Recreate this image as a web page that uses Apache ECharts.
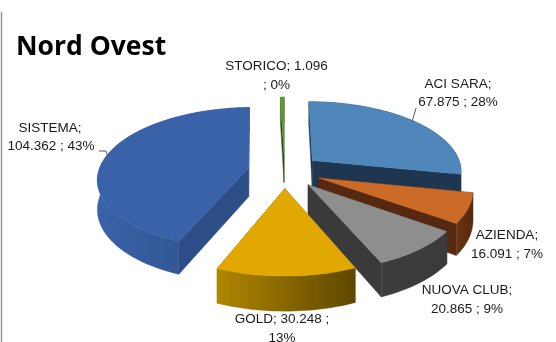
<!DOCTYPE html>
<html>
<head>
<meta charset="utf-8">
<title>Nord Ovest</title>
<script src="https://cdn.jsdelivr.net/npm/echarts@6/dist/echarts.min.js"></script>
<style>
  html, body { margin: 0; padding: 0; background: #fff; }
  #chart { width: 556px; height: 342px; }
</style>
</head>
<body>
<div id="chart"></div>
<script>
// Channel figures, clockwise from twelve o'clock
const titleText = 'Nord Ovest';
const categories = ['ACI SARA', 'AZIENDA', 'NUOVA CLUB', 'GOLD', 'SISTEMA', 'STORICO'];
const amounts = [67875, 16091, 20865, 30248, 104362, 1096];

// Painter's order: far slices first
const paintOrder = [0, 5, 4, 1, 2, 3];

// Wedge colours: top face, cut walls, rim gradient
const palette = [
  { top: '#4f87bb', cut: '#1f3650', rim: ['#2a4a6e', '#1f3650'] },
  { top: '#cc6a28', cut: '#55290f', rim: ['#6a3413', '#55290f'] },
  { top: '#8e8e8e', cut: '#3a3a3a', rim: ['#3d3d3d', '#3a3a3a'] },
  { top: '#e0a800', cut: '#7a5c00', rim: ['#b08600', '#5e4700'] },
  { top: '#3a62a8', cut: '#2c4d85', rim: ['#3a62a8', '#2c4d85'] },
  { top: '#5f9738', cut: '#2c4a18', rim: ['#5f9738', '#2c4a18'] }
];

// Projection of the exploded disc
const view = { cx: 284.5, cy: 171, radius: 150, tilt: 0.465, depth: 0.14, explode: 0.244, height: 29 };

// Label placement: each line is centred on x at centre y
const labelSlots = [
  { lines: [[458, 84], [458, 102]], split: 1 },
  { lines: [[507, 235], [507, 254]], split: 1 },
  { lines: [[467, 290], [467, 309]], split: 1 },
  { lines: [[282, 319], [282, 338]], split: 2 },
  { lines: [[50, 128], [51, 146]], split: 1 },
  { lines: [[276.5, 66], [276.5, 85]], split: 2 }
];

const total = amounts.reduce((a, b) => a + b, 0);
const thousands = v => String(v).replace(/\B(?=(\d{3})+$)/g, '.');
const percent = v => Math.round(v / total * 100) + '%';

function labelLines(i) {
  const head = categories[i] + ';';
  const num = thousands(amounts[i]);
  const pct = percent(amounts[i]);
  if (labelSlots[i].split === 1) return [head, num + ' ; ' + pct];
  // STORICO breaks before its separator, GOLD after it
  return i === 5 ? [head + ' ' + num, '; ' + pct] : [head + ' ' + num + ' ;', pct];
}

// Slice boundaries in radians clockwise from north
const bounds = [];
amounts.reduce((acc, v) => {
  const next = acc + v / total * Math.PI * 2;
  bounds.push([acc, next]);
  return next;
}, 0);

function project(X, Y, lift) {
  const s = 1 / (1 - view.depth * Y);
  return [
    view.cx + view.radius * X * s,
    view.cy + view.radius * view.tilt * Y * s + (lift ? view.height * s : 0)
  ];
}

function renderSlice(params, api) {
  const i = api.value(0);
  const [a0, a1] = bounds[i];
  const mid = (a0 + a1) / 2;
  const ox = view.explode * Math.sin(mid);
  const oy = -view.explode * Math.cos(mid);
  const rimAt = (a, low) => project(ox + Math.sin(a), oy - Math.cos(a), low);
  const apex = low => project(ox, oy, low);

  const steps = Math.max(2, Math.ceil((a1 - a0) / 0.03));
  const arcTop = [];
  const arcLow = [];
  for (let k = 0; k <= steps; k++) {
    const a = a0 + (a1 - a0) * k / steps;
    arcTop.push(rimAt(a, false));
    arcLow.push(rimAt(a, true));
  }
  const colors = palette[i];
  const xs = arcTop.map(p => p[0]);
  const rimFill = new echarts.graphic.LinearGradient(
    Math.min(...xs), 0, Math.max(...xs), 0,
    [{ offset: 0, color: colors.rim[0] }, { offset: 1, color: colors.rim[1] }],
    true
  );

  const poly = (points, fill) => ({
    type: 'polygon',
    shape: { points },
    style: { fill, stroke: fill, lineWidth: 0.4 }
  });

  return {
    type: 'group',
    children: [
      poly([apex(false), arcTop[0], arcLow[0], apex(true)], colors.cut),
      poly([apex(false), arcTop[steps], arcLow[steps], apex(true)], colors.cut),
      poly(arcTop.concat(arcLow.slice().reverse()), rimFill),
      poly([apex(false)].concat(arcTop), colors.top)
    ]
  };
}

// Value labels
const labelElements = [];
categories.forEach((name, i) => {
  labelLines(i).forEach((line, n) => {
    const [x, y] = labelSlots[i].lines[n];
    labelElements.push({
      type: 'text',
      x, y,
      z: 10,
      style: {
        text: line,
        fill: '#1a1a1a',
        font: '13.5px "Liberation Sans", sans-serif',
        align: 'center',
        verticalAlign: 'middle'
      }
    });
  });
});

const chart = echarts.init(document.getElementById('chart'), null, { renderer: 'canvas' });
chart.setOption({
  animation: false,
  backgroundColor: '#ffffff',
  title: {
    text: titleText,
    left: 11,
    top: 29,
    textStyle: {
      fontFamily: '"Open Sans", sans-serif',
      fontWeight: 'bold',
      fontSize: 26.5,
      color: '#000000'
    }
  },
  series: [{
    type: 'custom',
    coordinateSystem: 'none',
    silent: true,
    clip: false,
    renderItem: renderSlice,
    data: paintOrder.map(i => ({ name: categories[i], value: [i, amounts[i]] }))
  }],
  graphic: {
    elements: [
      { type: 'line', shape: { x1: 1.5, y1: 12, x2: 1.5, y2: 342 }, style: { stroke: '#9a9a9a', lineWidth: 1.5 } },
      { type: 'polyline', z: 10, shape: { points: [[99, 151], [106, 151], [108, 157]] }, style: { stroke: '#555', lineWidth: 1, fill: null } },
      { type: 'line', z: 10, shape: { x1: 416, y1: 108, x2: 412, y2: 122 }, style: { stroke: '#555', lineWidth: 1 } }
    ].concat(labelElements)
  }
});
</script>
</body>
</html>
